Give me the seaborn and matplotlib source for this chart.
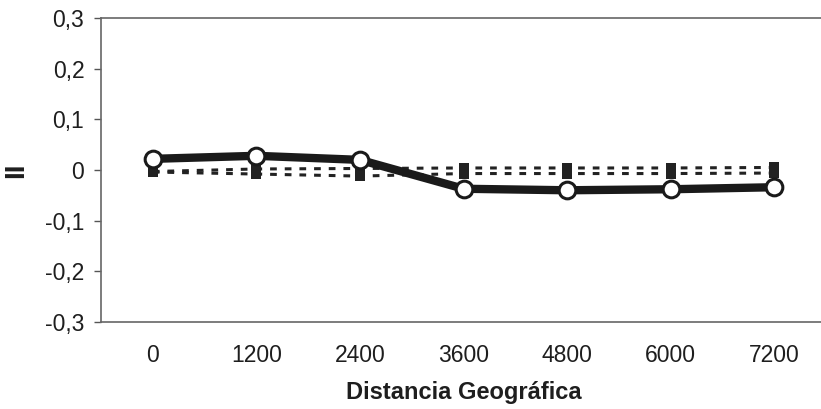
import matplotlib
matplotlib.use("Agg")
import matplotlib.pyplot as plt
import seaborn as sns
import pandas as pd
import numpy as np

distances = ["0", "1200", "2400", "3600", "4800", "6000", "7200"]
observed = [0.022, 0.028, 0.020, -0.037, -0.040, -0.038, -0.034]
upper_ci = [-0.003, 0.002, 0.003, 0.004, 0.004, 0.004, 0.005]
lower_ci = [-0.004, -0.008, -0.012, -0.007, -0.007, -0.007, -0.006]
yticks = [-0.3, -0.2, -0.1, 0.0, 0.1, 0.2, 0.3]
ytick_labels = ["-0,3", "-0,2", "-0,1", "0", "0,1", "0,2", "0,3"]

sns.set_theme(style="white")
plt.rcParams['font.family'] = ['Liberation Sans', 'DejaVu Sans']

pos = np.arange(len(distances))
df = pd.DataFrame({"pos": pos, "obs": observed, "up": upper_ci, "lo": lower_ci})

fig = plt.figure(figsize=(8.21, 4.09), dpi=100)
ax = fig.add_axes([101/821, 87/409, 725/821, 304/409])

for col in ["up", "lo"]:
    sns.lineplot(data=df, x="pos", y=col, ax=ax, color="#222222", linewidth=2.2,
                 linestyle=(0, (2.2, 2.6)), marker="s", markersize=6.5,
                 markeredgewidth=0, markerfacecolor="#222222", zorder=2)

sns.lineplot(data=df, x="pos", y="obs", ax=ax, color="#1a1a1a", linewidth=6,
             marker="o", markersize=12, markerfacecolor="white",
             markeredgecolor="#1a1a1a", markeredgewidth=2.2, zorder=3)

ax.set_xlim(-0.5, len(distances) - 0.5)
ax.set_ylim(-0.3, 0.3)
ax.set_yticks(yticks)
ax.set_yticklabels(ytick_labels, fontsize=16.5, color="#1e1e1e")
ax.set_xticks(pos)
ax.set_xticklabels(distances, fontsize=16.5, color="#1e1e1e")
ax.set_xticks(np.arange(len(distances) - 1) + 0.5, minor=True)
ax.tick_params(axis="x", which="major", length=0, pad=16)
ax.tick_params(axis="x", which="minor", length=5, width=1, color="#555555", direction="out")
ax.tick_params(axis="y", which="major", length=5, width=1, color="#555555", direction="out", pad=7, left=True)

for s in ["left", "bottom", "top"]:
    ax.spines[s].set_visible(True)
    ax.spines[s].set_color("#666666")
    ax.spines[s].set_linewidth(1.2)
ax.spines["right"].set_visible(False)
ax.grid(False)

ax.set_xlabel("Distancia Geográfica", fontsize=17, fontweight="bold", color="#1e1e1e")
ax.xaxis.set_label_coords(0.5, -0.195)
ax.set_ylabel("II", fontsize=20, fontweight="bold", color="#1e1e1e", rotation=90)
ax.yaxis.set_label_coords(-(101 - 29) / 725, 0.5)

fig.savefig("out.png", dpi=100)
